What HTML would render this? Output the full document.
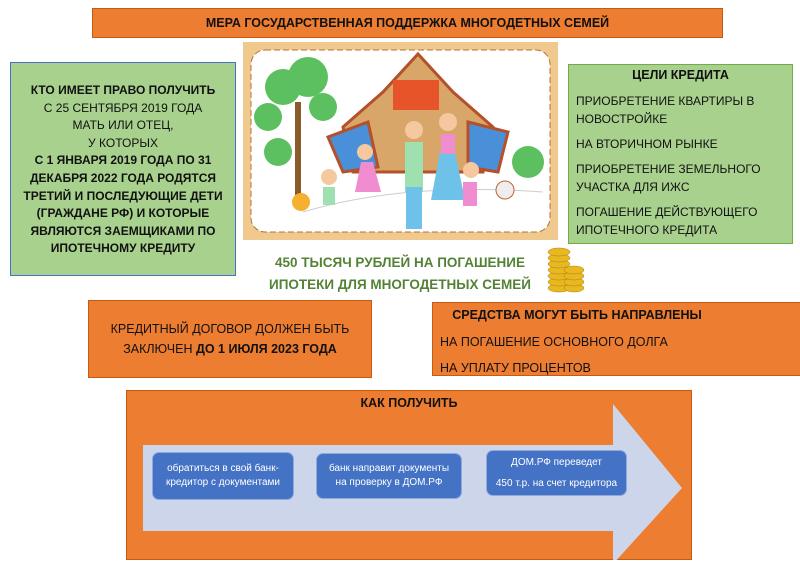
<!DOCTYPE html>
<html><head><meta charset="utf-8"><style>
body{margin:0;width:800px;height:566px;background:#fff;position:relative;overflow:hidden;font-family:"Liberation Sans Narrow","Liberation Sans",sans-serif;}
.b{position:absolute;box-sizing:border-box;}
.or{background:#ed7d31;border:1px solid #c55a11;}
.gr{background:#a9d18e;border:1px solid #70ad47;}
.t{position:absolute;color:#111;font-size:12px;line-height:1.0;}
.c{text-align:center;}
b{font-weight:bold;}
.bl{position:absolute;background:#4472c4;border:1px solid #8faadc;border-radius:7px;color:#fff;font-size:10px;text-align:center;box-sizing:border-box;display:flex;flex-direction:column;justify-content:center;line-height:1.45;}
</style></head><body>
<div class="b or" style="left:92px;top:8px;width:631px;height:30px;"></div>
<div class="t c" style="left:92px;top:17px;width:631px;font-weight:bold;font-size:12.5px;">МЕРА ГОСУДАРСТВЕННАЯ ПОДДЕРЖКА МНОГОДЕТНЫХ СЕМЕЙ</div>

<div class="b gr" style="left:10px;top:62px;width:226px;height:214px;border:1px solid #4472c4;"></div>
<div class="t c" style="left:12px;top:82px;width:222px;font-size:12px;line-height:17.6px;">
<b>КТО ИМЕЕТ ПРАВО ПОЛУЧИТЬ</b><br>С 25 СЕНТЯБРЯ 2019 ГОДА<br>МАТЬ ИЛИ ОТЕЦ,<br>У КОТОРЫХ<br><b>С 1 ЯНВАРЯ 2019 ГОДА ПО 31 ДЕКАБРЯ 2022 ГОДА РОДЯТСЯ ТРЕТИЙ И ПОСЛЕДУЮЩИЕ ДЕТИ (ГРАЖДАНЕ РФ) И КОТОРЫЕ ЯВЛЯЮТСЯ ЗАЕМЩИКАМИ ПО ИПОТЕЧНОМУ КРЕДИТУ</b></div>

<svg class="b" style="left:243px;top:42px" width="315" height="198" viewBox="0 0 315 198">
<rect x="0" y="0" width="315" height="198" fill="#f0c98f"/>
<rect x="8" y="8" width="299" height="182" rx="14" fill="#fff" stroke="#b0733a" stroke-dasharray="6 3"/>
<path d="M60 170 Q160 140 300 150" stroke="#ccc" fill="none"/>
<polygon points="100,85 140,50 175,12 210,50 250,85 240,130 110,130" fill="#d9a66a" stroke="#b4502a" stroke-width="3"/>
<rect x="150" y="38" width="46" height="30" fill="#e8542a"/>
<polygon points="85,95 125,80 135,125 100,130" fill="#4a90d9" stroke="#b4502a" stroke-width="3"/>
<polygon points="225,80 265,90 255,130 225,125" fill="#4a90d9" stroke="#b4502a" stroke-width="3"/>
<rect x="52" y="60" width="6" height="100" fill="#8a5a2a"/>
<circle cx="40" cy="45" r="18" fill="#5cc060"/><circle cx="65" cy="35" r="20" fill="#5cc060"/><circle cx="25" cy="75" r="14" fill="#5cc060"/><circle cx="35" cy="110" r="14" fill="#5cc060"/><circle cx="80" cy="65" r="14" fill="#5cc060"/>
<circle cx="285" cy="120" r="16" fill="#5cc060"/>
<rect x="162" y="100" width="18" height="50" fill="#9ee0b0"/><rect x="163" y="145" width="16" height="42" fill="#6ec2ea"/><circle cx="171" cy="88" r="9" fill="#f5c8a0"/>
<polygon points="197,110 212,110 222,158 188,158" fill="#6ec2ea"/><rect x="198" y="92" width="14" height="20" fill="#f08cd0"/><circle cx="205" cy="80" r="9" fill="#f5c8a0"/>
<polygon points="118,120 130,120 138,150 112,150" fill="#f08cd0"/><circle cx="122" cy="110" r="8" fill="#f5c8a0"/>
<rect x="220" y="140" width="14" height="24" fill="#f08cd0"/><circle cx="228" cy="128" r="8" fill="#f5c8a0"/>
<rect x="80" y="145" width="12" height="18" fill="#9ee0b0"/><circle cx="86" cy="135" r="8" fill="#f5c8a0"/>
<circle cx="58" cy="160" r="9" fill="#f5b030"/><circle cx="262" cy="148" r="9" fill="#eee" stroke="#c06030"/>
</svg>

<div class="b gr" style="left:568px;top:64px;width:225px;height:180px;"></div>
<div class="t c" style="left:568px;top:69px;width:225px;font-weight:bold;font-size:12.5px;">ЦЕЛИ КРЕДИТА</div>
<div class="t" style="left:576px;top:92px;width:215px;font-size:12px;line-height:18px;">ПРИОБРЕТЕНИЕ КВАРТИРЫ В НОВОСТРОЙКЕ<div style="height:7px"></div>НА ВТОРИЧНОМ РЫНКЕ<div style="height:7px"></div>ПРИОБРЕТЕНИЕ ЗЕМЕЛЬНОГО УЧАСТКА ДЛЯ ИЖС<div style="height:7px"></div>ПОГАШЕНИЕ ДЕЙСТВУЮЩЕГО ИПОТЕЧНОГО КРЕДИТА</div>

<div class="t c" style="left:250px;top:252px;width:300px;color:#548235;font-weight:bold;font-size:13.5px;line-height:22px;">450 ТЫСЯЧ РУБЛЕЙ НА ПОГАШЕНИЕ<br>ИПОТЕКИ ДЛЯ МНОГОДЕТНЫХ СЕМЕЙ</div>
<svg class="b" style="left:546px;top:246px" width="40" height="48">
<g fill="#e8b820" stroke="#b08010" stroke-width=".5">
<ellipse cx="13" cy="42" rx="11" ry="4"/><ellipse cx="13" cy="36" rx="11" ry="4"/><ellipse cx="13" cy="30" rx="11" ry="4"/><ellipse cx="13" cy="24" rx="11" ry="4"/><ellipse cx="13" cy="18" rx="11" ry="4"/><ellipse cx="13" cy="12" rx="11" ry="4"/><ellipse cx="13" cy="6" rx="11" ry="4"/>
<ellipse cx="28" cy="42" rx="10" ry="4"/><ellipse cx="28" cy="36" rx="10" ry="4"/><ellipse cx="28" cy="30" rx="10" ry="4"/><ellipse cx="28" cy="24" rx="10" ry="4"/></g></svg>

<div class="b or" style="left:88px;top:300px;width:284px;height:78px;"></div>
<div class="t c" style="left:88px;top:319px;width:284px;font-size:12.5px;line-height:20px;">КРЕДИТНЫЙ ДОГОВОР ДОЛЖЕН БЫТЬ<br>ЗАКЛЮЧЕН <b>ДО 1 ИЮЛЯ 2023 ГОДА</b></div>

<div class="b or" style="left:432px;top:302px;width:370px;height:74px;"></div>
<div class="t c" style="left:432px;top:309px;width:290px;font-weight:bold;font-size:12.5px;">СРЕДСТВА МОГУТ БЫТЬ НАПРАВЛЕНЫ</div>
<div class="t" style="left:440px;top:329px;font-size:12.5px;line-height:26px;">НА ПОГАШЕНИЕ ОСНОВНОГО ДОЛГА<br>НА УПЛАТУ ПРОЦЕНТОВ</div>

<div class="b or" style="left:126px;top:390px;width:566px;height:170px;"></div>
<div class="t c" style="left:126px;top:397px;width:566px;font-weight:bold;font-size:12.5px;">КАК ПОЛУЧИТЬ</div>
<svg class="b" style="left:126px;top:390px" width="566" height="170">
<polygon points="17,55 487,55 487,14 556,98 487,174 487,141 17,141" fill="#cdd5ea"/></svg>
<div class="bl" style="left:152px;top:452px;width:142px;height:48px;">обратиться в свой банк-<br>кредитор с документами</div>
<div class="bl" style="left:316px;top:453px;width:146px;height:46px;">банк направит документы<br>на проверку в ДОМ.РФ</div>
<div class="bl" style="left:486px;top:450px;width:141px;height:46px;line-height:21px;">ДОМ.РФ переведет<br>450 т.р. на счет кредитора</div>
</body></html>
